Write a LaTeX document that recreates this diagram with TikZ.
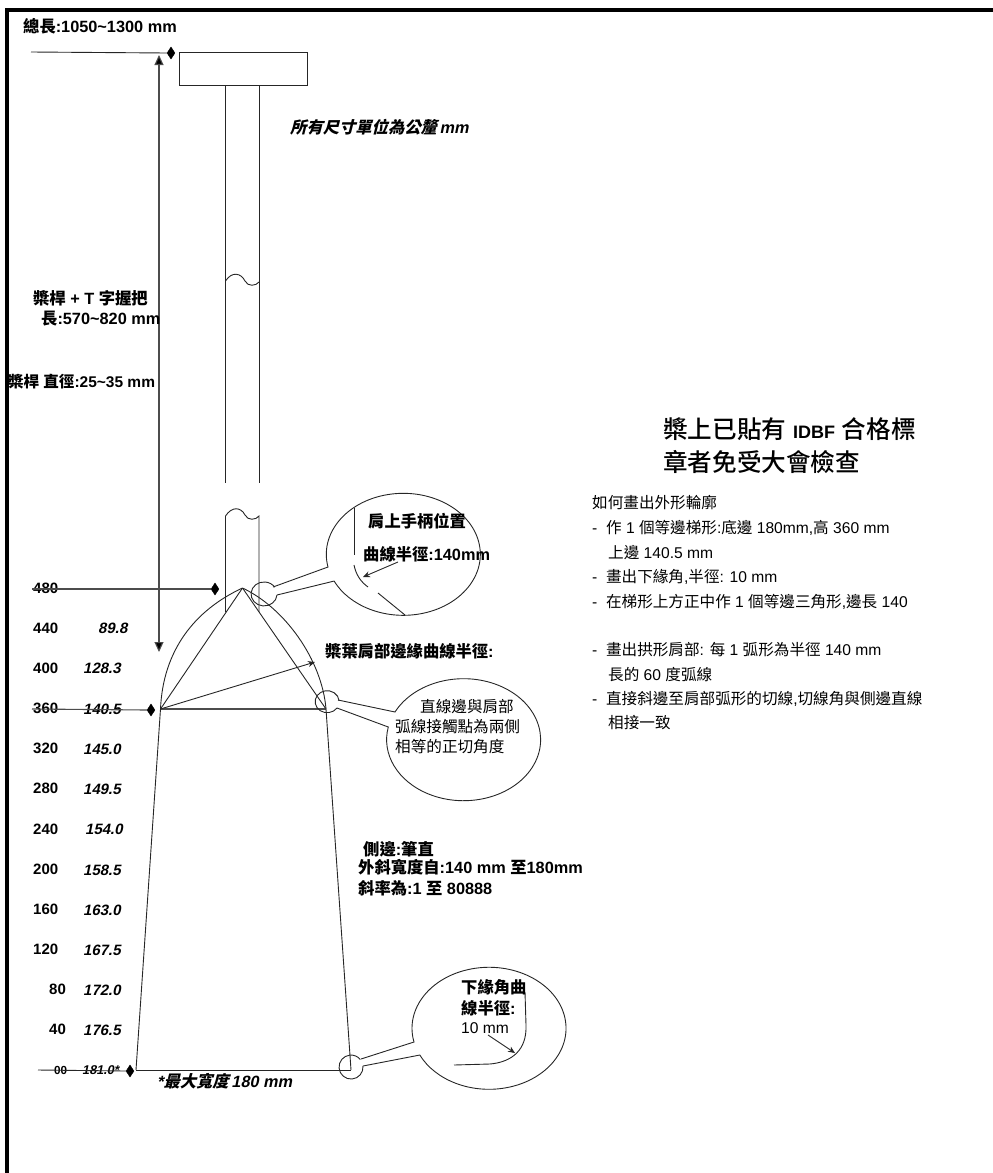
\documentclass[tikz,border=0pt]{standalone}
\usepackage{fontspec}
\setmainfont{Liberation Sans}
\newfontfamily\zhr{Noto Sans CJK TC}
\newfontfamily\zhm{Noto Sans CJK TC Medium}
\newfontfamily\zhb{Noto Sans CJK TC Bold}
\newfontfamily\zhbi[FakeSlant=0.25]{Noto Sans CJK TC Bold}
\newfontfamily\lati[FakeSlant=0.2]{Liberation Sans Bold}
\newcommand\zr[1]{{\zhr #1}}
\newcommand\zm[1]{{\zhm #1}}
\newcommand\zb[1]{{\zhb #1}}
\newcommand\zi[1]{{\zhbi #1}}
\usetikzlibrary{arrows.meta,shapes.geometric}
\tikzset{
 lab/.style={anchor=west,inner sep=0pt,font=\bfseries\fontsize{16.3}{18}\selectfont},
 num/.style={lab,font=\bfseries\fontsize{15}{18}\selectfont},
 val/.style={lab,font=\lati\fontsize{15}{18}\selectfont},
 body/.style={anchor=west,inner sep=0pt,font=\fontsize{15.6}{18}\selectfont},
 head/.style={anchor=west,inner sep=0pt,font=\fontsize{24.6}{28}\selectfont},
 ln/.style={draw=black!85,line width=.9pt},
 dim/.style={draw=black!70,line width=1.1pt},
 dia/.style={draw,fill=black,diamond,inner sep=0pt,minimum width=8pt,minimum height=12pt,shape aspect=.7},
 tip/.style={-{Triangle[width=9pt,length=10pt,fill=black]}},
 open/.style={-{Stealth[width=6pt,length=7pt]}}
}
\begin{document}
\begin{tikzpicture}[x=1pt,y=-1pt]
\useasboundingbox (0,0) rectangle (993,1173);
% frame
\coordinate (fa) at (7,1173); \coordinate (fb) at (7,10); \coordinate (fc) at (993,10);
\draw[line width=4pt,miter limit=10] (fa)--(fb)--(fc);
% T handle
\node[ln,draw,minimum width=127.5pt,minimum height=33pt,inner sep=0pt,anchor=north west] (handle) at (179,52) {};
\coordinate (sL1) at (225.5,85); \coordinate (sL2) at (225.5,483);
\coordinate (sR1) at (259,85); \coordinate (sR2) at (259,483);
\draw[ln] (sL1)--(sL2); \draw[ln] (sR1)--(sR2);
\coordinate (w1) at (225.5,281); \coordinate (w2) at (259,282);
\draw[ln] (w1) .. controls (232,271) and (241,273) .. (245,281) .. controls (248,287) and (256,286) .. (w2);
\coordinate (sL3) at (225.5,516); \coordinate (sL4) at (225.5,612);
\coordinate (sR3) at (259,516); \coordinate (sR4) at (259,612);
\draw[ln] (sL4)--(sL3) .. controls (232,506) and (241,507) .. (245,515) .. controls (248,521) and (256,520) .. (sR3)--(sR4);
% dimension lines
\node[dia] (dTop) at (171,53) {};
\coordinate (tL) at (31,52); \draw[ln] (tL)--(dTop.west);
\coordinate (aTop) at (159,55); \coordinate (aBot) at (159,652);
\draw[dim,tip] (159,353) -- (aTop); \draw[dim,tip] (159,353) -- (aBot);
\node[dia] (d480) at (215,589) {};
\coordinate (l480) at (32,589);
\node[dia] (d360) at (151,710) {};
\coordinate (l360) at (32,709);
\node[dia] (d0) at (130,1071) {};
\coordinate (l0) at (38,1070); 
% blade
\coordinate (A) at (242.5,588); \coordinate (B) at (160.5,709); \coordinate (C) at (326,709);
\coordinate (D) at (136,1070); \coordinate (E) at (351,1070);
\draw[ln] (A)--(B); \draw[ln] (A)--(C); \draw[dim] (B)--(C);
\draw[ln] (B) .. controls (163,650) and (195,610) .. (A);
\draw[ln] (A) .. controls (285,608) and (322,660) .. (C);
\draw[ln] (B)--(D); \draw[ln] (C)--(E); \draw[ln] (D)--(E);
\coordinate (R) at (315,662); \draw[ln,open] (B)--(R);
% lens 1 (shoulder grip)
\coordinate (t1a) at (273,587); \coordinate (t1b) at (277,595);
\coordinate (e1a) at (328,567); \coordinate (e1b) at (333,582);
\draw[ln] (t1b) arc[start angle=5,end angle=325,x radius=13,y radius=12];
\draw[ln] (t1a)--(e1a) arc[start angle=168,end angle=514,x radius=77,y radius=61] -- (t1b);
\coordinate (i1a) at (354,508); \coordinate (i1b) at (354,555); \draw[ln] (i1a)--(i1b);
\coordinate (i1c) at (354,565); \coordinate (i1d) at (368,587); \draw[ln] (i1c) .. controls (356,575) and (361,582) .. (i1d);
\coordinate (i1e) at (378,593); \coordinate (i1f) at (405,615); \draw[ln] (i1e)--(i1f);
\coordinate (a1a) at (398,562); \coordinate (a1b) at (363,577); \draw[ln,open] (a1a)--(a1b);
% lens 2 (tangent)
\coordinate (t2a) at (338,700); \coordinate (t2b) at (337,708);
\coordinate (e2a) at (395,712); \coordinate (e2b) at (388,727);
\draw[ln] (t2b) arc[start angle=35,end angle=355,x radius=12,y radius=11];
\draw[ln] (t2a)--(e2a) arc[start angle=207,end angle=552,x radius=77,y radius=61] -- (t2b);
% lens 3 (lower corner)
\coordinate (t3a) at (361,1059); \coordinate (t3b) at (363,1066);
\coordinate (e3a) at (414,1042); \coordinate (e3b) at (419,1055);
\draw[ln] (t3b) arc[start angle=-5,end angle=321,x radius=12,y radius=12];
\draw[ln] (t3a)--(e3a) arc[start angle=167,end angle=514,x radius=77,y radius=61] -- (t3b);
\coordinate (i3a) at (454,1065); \coordinate (i3b) at (525,992);
\draw[ln] (i3a) -- (490,1064) .. controls (512,1062) and (527,1050) .. (526,1025) -- (i3b);
\coordinate (a3a) at (488,1035); \coordinate (a3b) at (515,1053); \draw[ln,open] (a3a)--(a3b);
% top texts
\node[lab] (tTotal) at (23,26) {\zb{總長}:1050\textasciitilde1300 mm};
\node[lab] (tUnits) at (290,127) {\zi{所有尺寸單位為公釐}\,{\lati mm}};
\node[lab] (tShaft1) at (33,298) {\zb{槳桿} + T \zb{字握把}};
\node[lab] (tShaft2) at (41,319) {\zb{長}:570\textasciitilde820 mm};
\node[lab,font=\bfseries\fontsize{15.5}{18}\selectfont] (tDia) at (8,382) {\zb{槳桿} \zb{直徑}:25\textasciitilde35 mm};
\node[lab] (tL1a) at (368,521) {\zb{肩上手柄位置}};
\node[lab] (tL1b) at (363,554) {\zb{曲線半徑}:140mm};
\node[lab] (tSh) at (325,651) {\zb{槳葉肩部邊緣曲線半徑}:};
\node[body] (tL2a) at (420,707) {\zr{直線邊與肩部}};
\node[body] (tL2b) at (395,727) {\zr{弧線接觸點為兩側}};
\node[body] (tL2c) at (395,747) {\zr{相等的正切角度}};
\node[lab] (tS1) at (363,849) {\zb{側邊}:\zb{筆直}};
\node[lab] (tS2) at (358,867) {\zb{外斜寬度自}:140 mm \zb{至}180mm};
\node[lab] (tS3) at (358,888) {\zb{斜率為}:1 \zb{至} 80888};
\node[lab] (tL3a) at (461,987) {\zb{下緣角曲}};
\node[lab] (tL3b) at (461,1008) {\zb{線半徑}:};
\node[body] (tL3c) at (461,1028) {10 mm};
\node[lab] (tMax) at (157,1081) {{\lati*}\zi{最大寬度}\,{\lati 180 mm}};
% table
\foreach \n/\lb/\lx/\y in {a/480/33/588,b/440/33/628,c/400/33/668,d/360/33/708,e/320/33/748,f/280/33/788,g/240/33/829,h/200/33/869,i/160/33/909,j/120/33/949,k/80/49/989,l/40/49/1029}
  \node[num] (n\n) at (\lx,\y) {\lb};
\node[lab,font=\bfseries\fontsize{11.7}{13}\selectfont] (n0) at (54,1070) {00};
\foreach \n/\lb/\lx/\y in {b/89.8/98/628,c/128.3/83/668,d/140.5/83/709,e/145.0/83/749,f/149.5/83/789,g/154.0/85/829,h/158.5/83/870,i/163.0/83/910,j/167.5/83/950,k/172.0/83/990,l/176.5/83/1030}
  \node[val] (v\n) at (\lx,\y) {\lb};
\node[val,font=\lati\fontsize{12.7}{13}\selectfont] (v0) at (82,1070) {181.0*};
\draw[ln] (l0)--(d0.west);
\draw[dim] (l480)--(d480.west);
\draw[dim] (l360)--(d360.west);
% right text
\node[head] (h1) at (663,429) {\zm{槳上已貼有} {\bfseries\fontsize{18}{18}\selectfont IDBF} \zm{合格標}};
\node[head] (h2) at (663,462) {\zm{章者免受大會檢查}};
\node[body] (r1) at (592,503) {\zr{如何畫出外形輪廓}};
\node[body] (r2) at (592,528) {-\ \ \zr{作} 1 \zr{個等邊梯形}:\zr{底邊} 180mm,\zr{高} 360 mm};
\node[body] (r3) at (608,553) {\zr{上邊} 140.5 mm};
\node[body] (r4) at (592,577) {-\ \ \zr{畫出下緣角},\zr{半徑}: 10 mm};
\node[body] (r5) at (592,602) {-\ \ \zr{在梯形上方正中作} 1 \zr{個等邊三角形},\zr{邊長} 140};
\node[body] (r6) at (592,650) {-\ \ \zr{畫出拱形肩部}: \zr{每} 1 \zr{弧形為半徑} 140 mm};
\node[body] (r7) at (608,675) {\zr{長的} 60 \zr{度弧線}};
\node[body] (r8) at (592,699) {-\ \ \zr{直接斜邊至肩部弧形的切線},\zr{切線角與側邊直線}};
\node[body] (r9) at (608,723) {\zr{相接一致}};
\end{tikzpicture}
\end{document}
